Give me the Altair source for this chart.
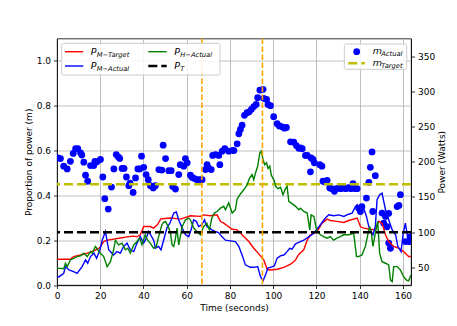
import altair as alt
import pandas as pd

FONT = "DejaVu Sans"

# ---- m_Actual dots (proportion of power) ----
t_dots = [0.5, 1.6, 3.1, 4.7, 6.2, 7.5, 8.6, 9.6, 10.9, 11.5,
          12.4, 13.2, 14.2, 15.5, 17.0, 17.5, 18.5, 20.1, 21.2, 22.1,
          23.7, 25.2, 26.3, 27.4, 28.3, 29.0, 30.1, 31.0, 32.1, 33.2,
          33.8, 35.2, 36.3, 37.4, 38.3, 39.1, 40.1, 41.2, 42.2, 43.2,
          44.5, 45.5, 47.1, 48.5, 49.1, 50.2, 51.7, 52.8, 53.5, 54.8,
          56.3, 57.0, 58.6, 59.4, 60.2, 61.7, 62.5, 63.6, 64.8, 66.0,
          67.1, 68.7, 69.4, 70.3, 71.3, 72.0, 73.3, 74.8, 75.3, 76.4,
          77.6, 79.4, 81.3, 81.8, 83.3, 84.1, 84.8, 85.6, 86.7, 87.9,
          88.9, 89.9, 91.0, 92.1, 92.8, 93.8, 95.3, 95.6, 96.9, 97.6,
          98.7, 100.2, 101.8, 102.8, 104.1, 105.2, 106.1, 108.0, 109.5, 110.7,
          111.8, 112.6, 113.4, 114.9, 115.7, 117.2, 117.5, 118.4, 119.0, 121.5,
          122.5, 123.0, 124.0, 124.9, 126.1, 127.1, 128.3, 129.2, 130.3, 131.3,
          132.6, 133.6, 134.8, 135.9, 136.9, 138.0, 138.8, 139.5, 140.3, 141.0,
          143.1, 144.2, 144.9, 145.7, 146.0, 147.2, 150.3, 151.1, 151.9, 152.6,
          153.4, 153.4, 154.2, 157.3, 158.1, 158.8, 161.1, 162.7, 163.3]
m_dots = [0.567, 0.564, 0.530, 0.518, 0.552, 0.587, 0.608, 0.608, 0.590, 0.580,
          0.548, 0.490, 0.463, 0.533, 0.533, 0.552, 0.550, 0.560, 0.482, 0.385,
          0.339, 0.437, 0.518, 0.582, 0.572, 0.565, 0.520, 0.520, 0.482, 0.443,
          0.455, 0.413, 0.478, 0.518, 0.518, 0.575, 0.525, 0.493, 0.470, 0.443,
          0.433, 0.443, 0.515, 0.513, 0.624, 0.564, 0.510, 0.510, 0.440, 0.428,
          0.493, 0.537, 0.530, 0.564, 0.545, 0.490, 0.480, 0.475, 0.470, 0.470,
          0.470, 0.515, 0.537, 0.520, 0.515, 0.578, 0.582, 0.578, 0.537, 0.597,
          0.608, 0.597, 0.601, 0.600, 0.630, 0.675, 0.694, 0.713, 0.757, 0.769,
          0.773, 0.784, 0.796, 0.806, 0.836, 0.870, 0.873, 0.833, 0.828, 0.806,
          0.800, 0.751, 0.720, 0.710, 0.706, 0.700, 0.703, 0.639, 0.637, 0.622,
          0.610, 0.612, 0.608, 0.578, 0.578, 0.505, 0.567, 0.560, 0.545, 0.537,
          0.530, 0.463, 0.460, 0.467, 0.433, 0.430, 0.418, 0.430, 0.433, 0.430,
          0.433, 0.430, 0.435, 0.430, 0.452, 0.430, 0.430, 0.343, 0.328, 0.350,
          0.388, 0.458, 0.525, 0.594, 0.328, 0.488, 0.321, 0.276, 0.306, 0.260,
          0.320, 0.187, 0.164, 0.350, 0.355, 0.403, 0.194, 0.194, 0.215]
m_target = 0.45

# ---- power lines (Watts) ----
t_red = [0, 6.2, 7.7, 10.9, 14.0, 17.1, 19.5, 20.1, 21.6, 23.1,
         26.2, 29.3, 32.4, 35.4, 37.0, 38.5, 40.1, 43.1, 44.7, 46.5,
         48.0, 50.0, 52.5, 57.1, 61.7, 66.3, 67.8, 70.9, 74.0, 75.6,
         77.1, 81.0, 83.3, 85.6, 88.7, 91.0, 93.3, 95.6, 97.2, 98.7,
         101.8, 104.9, 108.0, 109.5, 110.3, 111.8, 114.1, 115.7, 117.2, 120.3,
         122.6, 124.9, 126.4, 129.5, 132.6, 134.9, 138.8, 140.3, 141.8, 144.9,
         147.2, 148.8, 150.3, 151.9, 153.4, 155.7, 158.1, 160.3, 162.6, 163.7]
w_red = [61.6, 61.6, 65.4, 67.6, 70.2, 73.4, 77.5, 79.4, 86.7, 88.6,
         90.2, 91.8, 93.4, 94.4, 93.4, 96.3, 108.0, 108.0, 105.8, 110.9,
         118.9, 119.5, 120.1, 118.5, 123.3, 122.4, 124.6, 123.3, 124.6, 115.4,
         112.8, 104.2, 103.3, 96.3, 86.7, 77.2, 69.2, 60.6, 47.3, 46.3,
         47.3, 50.1, 54.6, 58.0, 60.6, 68.5, 75.0, 88.6, 96.3, 101.0,
         112.8, 118.5, 116.6, 115.4, 113.8, 116.6, 120.1, 108.0, 105.8, 104.2,
         103.3, 115.4, 112.8, 96.3, 86.7, 79.7, 77.2, 72.4, 65.4, 65.4]

t_blue = [0, 1.0, 3.1, 3.9, 5.5, 7.7, 9.3, 11.6, 13.2, 14.2,
          15.5, 17.1, 18.3, 19.9, 20.9, 22.4, 23.1, 23.9, 25.4, 26.2,
          27.7, 29.3, 30.8, 32.4, 33.9, 35.5, 37.0, 38.5, 40.1, 41.3,
          42.4, 44.7, 45.5, 47.0, 48.1, 49.3, 50.8, 52.4, 54.0, 55.2,
          56.3, 57.9, 59.4, 60.9, 62.0, 63.2, 64.4, 65.5, 67.0, 68.2,
          69.3, 70.5, 71.6, 73.2, 74.7, 76.2, 77.9, 80.2, 82.5, 84.1,
          85.6, 87.1, 89.4, 91.0, 92.8, 94.1, 95.3, 96.4, 97.5, 98.7,
          100.5, 101.8, 103.3, 104.9, 106.4, 107.6, 108.7, 110.3, 111.8, 114.1,
          116.5, 118.8, 121.8, 124.1, 125.7, 128.0, 130.4, 132.6, 134.9, 136.5,
          138.0, 138.8, 140.3, 141.8, 143.1, 144.2, 144.9, 146.1, 147.2, 148.0,
          149.2, 150.3, 151.9, 153.4, 155.0, 156.6, 157.6, 159.1, 160.1, 161.1,
          162.2, 163.3]
w_blue = [36.8, 36.8, 41.5, 51.1, 46.3, 44.1, 41.5, 51.1, 60.6, 55.9,
          65.4, 70.2, 62.9, 75.0, 88.6, 101.0, 88.6, 75.0, 70.2, 67.6,
          72.4, 70.2, 79.7, 84.5, 75.0, 72.4, 84.5, 93.7, 84.5, 91.5,
          101.0, 88.6, 77.2, 79.7, 75.0, 88.6, 105.8, 114.1, 127.1, 128.7,
          117.3, 105.8, 96.3, 93.7, 103.3, 117.6, 115.4, 108.0, 110.6, 117.6,
          108.0, 105.8, 103.3, 101.0, 99.5, 93.7, 88.6, 87.7, 86.7, 79.7,
          67.6, 53.6, 50.1, 50.1, 51.1, 36.8, 31.0, 39.3, 48.9, 50.1,
          52.0, 63.2, 66.4, 67.6, 72.4, 77.2, 75.9, 83.5, 85.5, 88.6,
          93.7, 98.5, 110.6, 120.1, 124.6, 123.3, 124.6, 122.4, 125.5, 127.1,
          136.7, 138.9, 127.1, 134.1, 122.4, 108.0, 103.3, 96.3, 108.0, 146.2,
          153.2, 155.5, 131.9, 117.6, 103.3, 96.3, 79.7, 72.4, 98.5, 112.8,
          91.5, 93.7]

t_green = [0, 3.1, 3.9, 4.7, 6.2, 7.7, 9.3, 10.9, 12.4, 14.0,
           15.5, 16.3, 17.8, 19.4, 20.1, 21.6, 23.2, 24.7, 26.2, 27.0,
           28.5, 30.1, 31.6, 32.7, 33.9, 35.5, 37.0, 38.2, 39.3, 40.8,
           41.9, 43.1, 44.7, 45.9, 47.0, 48.5, 49.3, 50.2, 51.7, 52.5,
           53.2, 54.0, 54.8, 55.5, 56.3, 57.9, 59.4, 60.9, 61.7, 63.2,
           64.7, 66.3, 67.8, 69.3, 70.5, 71.6, 72.8, 74.0, 75.6, 77.1,
           77.9, 79.4, 81.0, 82.5, 83.3, 84.8, 86.4, 87.9, 89.1, 90.2,
           91.0, 91.8, 92.8, 93.8, 94.4, 95.3, 96.0, 96.9, 97.6, 98.4,
           99.1, 100.4, 101.1, 102.2, 103.4, 104.5, 105.7, 106.4, 107.2, 108.7,
           110.3, 111.8, 112.6, 114.1, 115.7, 116.9, 117.5, 118.8, 120.0, 121.8,
           123.3, 124.9, 126.4, 127.9, 129.5, 131.0, 132.6, 134.9, 137.2, 138.5,
           139.5, 141.0, 142.6, 143.7, 144.6, 145.4, 146.1, 147.2, 148.3, 149.2,
           150.3, 151.9, 153.4, 154.2, 155.0, 155.7, 157.3, 158.8, 160.3, 161.6,
           162.6, 163.7]
w_green = [48.9, 48.2, 55.9, 51.1, 60.6, 62.9, 65.4, 66.4, 70.2, 65.4,
           72.4, 70.2, 79.7, 72.4, 70.2, 65.4, 51.1, 58.1, 75.0, 88.6,
           82.0, 84.5, 75.0, 77.2, 70.2, 82.0, 86.7, 91.5, 82.0, 96.3,
           88.6, 84.5, 77.2, 79.7, 93.7, 110.6, 114.1, 115.4, 105.8, 98.5,
           82.0, 79.7, 91.5, 105.8, 82.0, 108.0, 117.6, 120.1, 117.6, 105.8,
           101.0, 96.3, 108.0, 112.8, 103.3, 120.1, 127.1, 129.4, 134.1, 136.7,
           131.9, 141.5, 127.1, 131.9, 147.2, 154.2, 160.2, 167.2, 177.1, 181.9,
           174.5, 184.1, 193.6, 212.7, 215.0, 203.2, 195.9, 198.4, 190.5, 193.6,
           180.9, 173.6, 165.0, 161.8, 163.7, 153.2, 161.8, 165.0, 143.7, 140.5,
           136.7, 131.9, 134.1, 129.4, 127.1, 103.3, 124.6, 122.4, 103.3, 96.3,
           93.7, 91.5, 93.7, 88.6, 91.5, 93.7, 96.3, 96.3, 98.5, 65.4,
           65.4, 67.6, 79.7, 96.3, 108.0, 98.5, 79.7, 98.5, 115.4, 70.2,
           58.1, 55.9, 53.6, 32.0, 29.8, 51.1, 51.1, 46.3, 36.8, 32.0,
           31.0, 39.3]

p_target = 100
event_times = [67, 95]

x_ticks = [0, 20, 40, 60, 80, 100, 120, 140, 160]
left_ticks = [0.0, 0.2, 0.4, 0.6, 0.8, 1.0]
right_ticks = [50, 100, 150, 200, 250, 300, 350]

# ---- encodings ----
x_enc = alt.X("t:Q", scale=alt.Scale(domain=[0, 163.7], nice=False, zero=False),
              axis=alt.Axis(values=x_ticks, title="Time (seconds)", grid=True))
y_left = alt.Y("m:Q", scale=alt.Scale(domain=[0, 1.1], nice=False, zero=False),
               axis=alt.Axis(orient="left", values=left_ticks, format=".1f",
                             title="Proportion of power (m)", grid=True))
y_right = alt.Y("w:Q", scale=alt.Scale(domain=[25, 375], nice=False, zero=False),
                axis=alt.Axis(orient="right", values=right_ticks, grid=False,
                              title="Power (Watts)", titleAngle=270,
                              titleBaseline="top"))

dots = alt.Chart(pd.DataFrame({"t": t_dots, "m": m_dots})).mark_circle(
    size=46, color="#0000ff", opacity=1, clip=True).encode(x=x_enc, y=y_left)
mtarget = alt.Chart(pd.DataFrame({"m": [m_target]})).mark_rule(
    color="#bfbf00", strokeWidth=2.5, strokeDash=[9, 4]).encode(y=y_left)
left = alt.layer(dots, mtarget)


def pline(ts, ws, color):
    return alt.Chart(pd.DataFrame({"t": ts, "w": ws})).mark_line(
        color=color, strokeWidth=1.4, clip=True).encode(x=x_enc, y=y_right)


red = pline(t_red, w_red, "#ff0000")
blue = pline(t_blue, w_blue, "#0000ff")
green = pline(t_green, w_green, "#008000")
ptarget = alt.Chart(pd.DataFrame({"w": [p_target]})).mark_rule(
    color="black", strokeWidth=2.6, strokeDash=[9, 4]).encode(y=y_right)
right = alt.layer(red, blue, green, ptarget)

events = alt.Chart(pd.DataFrame({"t": event_times})).mark_rule(
    color="#ffa500", strokeWidth=1.6, strokeDash=[5.5, 2.5]).encode(x=x_enc)

# ---- legends (drawn manually to keep the subscripts) ----
one = pd.DataFrame({"a": [0]})


def box(x1, x2, y1, y2):
    return alt.Chart(one).mark_rect(fill="white", fillOpacity=0.85, stroke="#cccccc",
                                    strokeWidth=1, cornerRadius=2).encode(
        x=alt.value(x1), x2=alt.value(x2), y=alt.value(y1), y2=alt.value(y2))


def handle(x1, x2, y, color, width, dash=None):
    kw = dict(color=color, strokeWidth=width)
    if dash:
        kw["strokeDash"] = dash
    return alt.Chart(one).mark_rule(**kw).encode(
        x=alt.value(x1), x2=alt.value(x2), y=alt.value(y))


def label(main, sub, x, base, subdx):
    a = alt.Chart(one).mark_text(text=main, font=FONT, fontSize=9.5, fontStyle="italic",
                                 align="left", baseline="alphabetic", color="black").encode(
        x=alt.value(x), y=alt.value(base))
    b = alt.Chart(one).mark_text(text=sub, font=FONT, fontSize=6.7, fontStyle="italic",
                                 align="left", baseline="alphabetic", color="black").encode(
        x=alt.value(x + subdx), y=alt.value(base + 2))
    return [a, b]


legend_layers = [
    box(4.7, 163, 4.8, 36.5),
    handle(8, 26.3, 13.2, "#ff0000", 1.4),
    handle(8, 26.3, 27.5, "#0000ff", 1.4),
    handle(91.3, 109.7, 13.2, "#008000", 1.4),
    handle(91.3, 109.7, 27.5, "black", 2.6, [9, 4]),
    *label("P", "M\u2212Target", 33.7, 16.3, 6),
    *label("P", "M\u2212Actual", 33.7, 30.6, 6),
    *label("P", "H\u2212Actual", 117.3, 16.3, 6),
    *label("P", "T", 117.3, 30.6, 6),
    box(287.3, 349.7, 5.5, 30.8),
    alt.Chart(one).mark_circle(size=46, color="#0000ff", opacity=1).encode(
        x=alt.value(299.7), y=alt.value(13.2)),
    handle(291.3, 308, 24.8, "#bfbf00", 2.5, [9, 4]),
    *label("m", "Actual", 315.7, 15.8, 8.6),
    *label("m", "Target", 315.7, 27.4, 8.6),
]

chart = alt.layer(left, right, events, *legend_layers).resolve_scale(
    y="independent"
).properties(
    width=354, height=246.5,
    autosize=alt.AutoSizeParams(type="none"),
    padding={"left": 49, "top": 30.5, "right": 38, "bottom": 28},
).configure_axis(
    labelFont=FONT, labelFontSize=9, labelColor="black",
    titleFont=FONT, titleFontSize=9, titleFontWeight="normal", titleColor="black",
    domainColor="black", domainWidth=0.8, tickColor="black", tickWidth=0.8,
    tickSize=3.5, labelPadding=3, titlePadding=3,
    gridColor="#b0b0b0", gridWidth=0.8, labelFlush=False, labelOverlap=False,
).configure_view(stroke="black", strokeWidth=0.8)

chart.save("out.html", embed_options={"renderer": "svg", "actions": False})
